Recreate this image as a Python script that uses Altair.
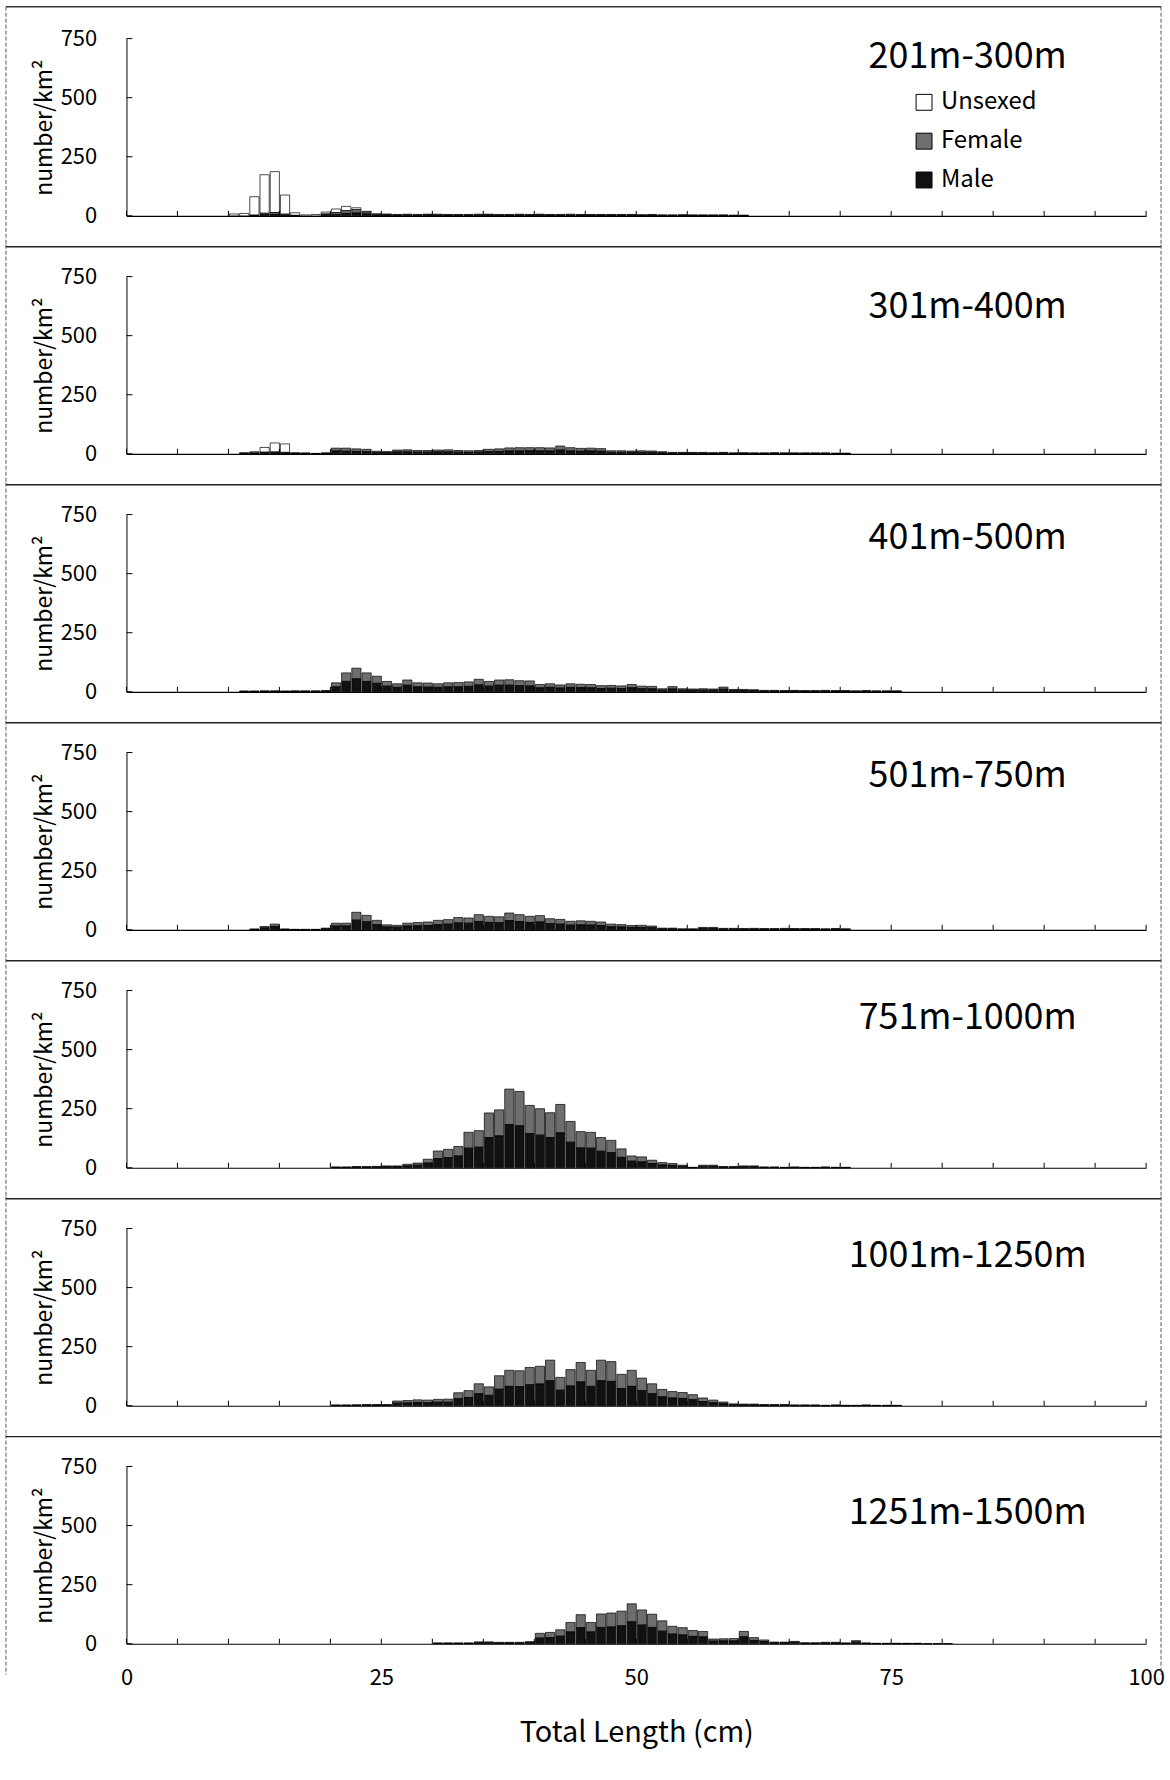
import altair as alt
import pandas as pd

FONT = "Noto Sans CJK JP"

PANEL_LABELS = ["201m-300m", "301m-400m", "401m-500m", "501m-750m",
                "751m-1000m", "1001m-1250m", "1251m-1500m"]
PANEL_LABEL_Y = [670, 619, 649, 649, 632, 632, 552]
PANEL_LABEL_X = 82.5

SERIES = ["Unsexed", "Female", "Male"]
SERIES_COLORS = ["#ffffff", "#6e6e6e", "#111111"]
STACK_ORDER = {"Male": 0, "Female": 1, "Unsexed": 2}

X_TICKS = [0, 5, 10, 15, 20, 25, 30, 35, 40, 45, 50, 55, 60, 65, 70, 75, 80, 85, 90, 95, 100]
X_LABELS = [0, 25, 50, 75, 100]
Y_TICKS = [0, 250, 500, 750]

# first length class (cm) of each panel's lists; bar i covers [start+i, start+i+1)
PANEL_START = [10, 11, 11, 12, 20, 20, 30]

# 201m-300m
P1_UNSEXED = [8, 10, 78, 163, 173, 81, 11, 4, 6, 8, 15, 18, 8, 3]
P1_FEMALE = [0, 0, 2, 6, 8, 4, 1, 0, 0, 4, 8, 12, 14, 8, 5, 4, 3, 4, 3, 3,
             4, 3, 3, 3, 4, 3, 3, 3, 4, 3, 3, 3, 3, 4, 3, 3, 3, 3, 3, 3,
             3, 3, 2, 2, 3, 2, 2, 2, 2, 2, 2]
P1_MALE = [0, 0, 1, 5, 6, 3, 1, 0, 0, 4, 6, 10, 12, 8, 4, 4, 3, 3, 3, 4,
           3, 3, 3, 3, 3, 4, 3, 3, 3, 3, 4, 3, 3, 3, 3, 3, 3, 3, 3, 3,
           2, 3, 2, 2, 2, 2, 2, 2, 2, 1, 1]

# 301m-400m
P2_UNSEXED = [3, 5, 20, 38, 36, 3, 2]
P2_FEMALE = [0, 2, 3, 4, 3, 1, 1, 1, 2, 12, 13, 11, 10, 6, 5, 8, 9, 7, 7, 8,
             9, 7, 7, 7, 10, 11, 13, 14, 13, 14, 13, 17, 14, 12, 12, 11, 7, 7, 6, 7,
             6, 5, 3, 3, 3, 3, 3, 3, 2, 3, 2, 2, 3, 2, 2, 2, 2, 2, 2, 2]
P2_MALE = [2, 2, 4, 4, 3, 1, 1, 1, 2, 12, 11, 10, 9, 5, 5, 8, 8, 7, 7, 8,
           8, 7, 6, 7, 9, 10, 12, 12, 13, 12, 12, 16, 12, 11, 12, 11, 6, 6, 6, 6,
           6, 4, 3, 3, 3, 3, 2, 3, 2, 2, 2, 2, 2, 2, 2, 2, 2, 2, 1, 1]

# 401m-500m
P3_UNSEXED = []
P3_FEMALE = [1, 1, 2, 2, 1, 2, 2, 2, 2, 17, 36, 45, 36, 30, 20, 15, 22, 17, 17, 15,
             17, 18, 19, 24, 20, 22, 23, 21, 21, 14, 15, 13, 15, 14, 14, 12, 12, 11, 14, 11,
             10, 6, 10, 6, 5, 6, 5, 9, 4, 4, 4, 3, 3, 2, 3, 2, 2, 3, 2, 2,
             2, 2, 2, 2, 2]
P3_MALE = [2, 2, 2, 2, 2, 2, 2, 2, 3, 21, 44, 55, 44, 36, 24, 19, 28, 21, 20, 19,
           21, 21, 23, 29, 24, 28, 28, 26, 25, 17, 19, 16, 19, 18, 17, 14, 15, 14, 17, 13,
           13, 7, 12, 7, 7, 7, 7, 11, 6, 6, 5, 3, 3, 3, 3, 3, 3, 3, 3, 3,
           2, 3, 2, 2, 2]

# 501m-750m
P4_UNSEXED = []
P4_FEMALE = [1, 6, 10, 1, 1, 1, 1, 3, 12, 12, 33, 27, 18, 9, 8, 12, 14, 15, 18, 19,
             23, 22, 29, 26, 25, 32, 29, 26, 27, 21, 20, 16, 17, 16, 15, 11, 10, 8, 9, 7,
             3, 3, 2, 2, 4, 4, 3, 3, 2, 3, 2, 2, 3, 2, 2, 2, 2, 2, 2]
P4_MALE = [2, 8, 14, 2, 1, 1, 1, 4, 16, 16, 41, 34, 22, 12, 11, 16, 17, 18, 22, 24,
           29, 28, 35, 31, 30, 39, 35, 31, 33, 26, 24, 20, 21, 20, 18, 13, 12, 10, 10, 9,
           4, 4, 2, 2, 6, 6, 3, 3, 3, 3, 3, 3, 3, 3, 3, 3, 2, 3, 2]

# 751m-1000m
P5_UNSEXED = []
P5_FEMALE = [1, 1, 2, 2, 3, 4, 4, 7, 9, 16, 32, 35, 40, 67, 70, 104, 110, 150, 145, 119,
             112, 105, 120, 88, 69, 67, 58, 52, 36, 22, 21, 14, 10, 8, 5, 1, 5, 5, 2, 2,
             4, 4, 1, 1, 1, 1, 1, 1, 1, 1, 1]
P5_MALE = [2, 2, 3, 3, 3, 4, 4, 8, 11, 20, 39, 43, 50, 83, 87, 128, 135, 183, 178, 145,
           138, 128, 148, 108, 84, 83, 70, 64, 44, 28, 25, 18, 12, 10, 6, 1, 6, 6, 3, 3,
           4, 4, 2, 2, 1, 2, 1, 1, 2, 1, 1]

# 1001m-1250m
P6_UNSEXED = []
P6_FEMALE = [1, 1, 2, 2, 2, 2, 9, 10, 11, 11, 12, 13, 25, 29, 42, 36, 57, 68, 67, 73,
             75, 87, 54, 69, 82, 68, 87, 84, 60, 68, 53, 42, 31, 27, 25, 21, 15, 11, 7, 4,
             3, 3, 2, 2, 2, 1, 1, 1, 1, 1, 1, 1, 1, 1, 1, 1]
P6_MALE = [2, 2, 2, 3, 3, 3, 11, 12, 14, 13, 15, 15, 30, 35, 51, 44, 70, 82, 81, 89,
           92, 106, 66, 84, 101, 82, 106, 103, 73, 82, 64, 51, 38, 33, 31, 26, 18, 13, 9, 4,
           4, 4, 3, 3, 3, 2, 2, 2, 1, 2, 1, 1, 2, 1, 1, 1]

# 1251m-1500m
P7_UNSEXED = []
P7_FEMALE = [1, 1, 1, 1, 4, 4, 3, 3, 3, 4, 20, 22, 27, 40, 55, 40, 57, 59, 62, 76,
             64, 56, 44, 33, 31, 25, 23, 9, 9, 10, 23, 12, 7, 3, 3, 4, 2, 2, 3, 3,
             1, 6, 1, 1, 1, 1, 1, 1, 0, 0, 0]
P7_MALE = [2, 2, 2, 2, 4, 4, 3, 3, 3, 5, 24, 26, 32, 50, 68, 50, 69, 71, 76, 93,
           79, 69, 53, 41, 37, 31, 29, 11, 12, 12, 29, 14, 9, 4, 4, 6, 2, 2, 3, 3,
           2, 7, 2, 1, 1, 1, 1, 1, 1, 1, 1]

PANEL_SERIES = [
    (P1_UNSEXED, P1_FEMALE, P1_MALE),
    (P2_UNSEXED, P2_FEMALE, P2_MALE),
    (P3_UNSEXED, P3_FEMALE, P3_MALE),
    (P4_UNSEXED, P4_FEMALE, P4_MALE),
    (P5_UNSEXED, P5_FEMALE, P5_MALE),
    (P6_UNSEXED, P6_FEMALE, P6_MALE),
    (P7_UNSEXED, P7_FEMALE, P7_MALE),
]

W = 1024
H = 178

rows = []
for p, (start, lists) in enumerate(zip(PANEL_START, PANEL_SERIES)):
    for name, vals in zip(SERIES, lists):
        for i, v in enumerate(vals):
            if v > 0:
                rows.append({"panel": p, "series": name, "lo": start + i,
                             "hi": start + i + 1, "value": v,
                             "ord": STACK_ORDER[name]})
df = pd.DataFrame(rows)

xscale = alt.Scale(domain=[0, 100], nice=False, zero=False)
yscale = alt.Scale(domain=[0, 750], nice=False)


def make_panel(k):
    last = k == len(PANEL_LABELS) - 1
    if last:
        xaxis = alt.Axis(values=X_LABELS, ticks=False, tickSize=0, labelPadding=24,
                         labelFontSize=22, labelFont=FONT, labelColor="black",
                         title="Total Length (cm)", titleFontSize=29, titleFont=FONT,
                         titleFontWeight="normal", titlePadding=30, titleColor="black",
                         domainColor="black", domainWidth=1.2, grid=False,
                         labelFlush=False)
    else:
        xaxis = alt.Axis(values=X_LABELS, ticks=False, tickSize=0, labels=False,
                         title=None, domainColor="black", domainWidth=1.2, grid=False)
    yaxis = alt.Axis(values=Y_TICKS, ticks=False, tickSize=0, labelPadding=30,
                     labelFontSize=22, labelFont=FONT, labelColor="black",
                     title="number/km²", titleFontSize=23, titleFont=FONT,
                     titleFontWeight="normal", titlePadding=4, titleColor="black",
                     domainColor="black", domainWidth=1, grid=False)

    if k == 0:
        legend = alt.Legend(orient="none", legendX=789, legendY=52, title=None,
                            symbolType="square", symbolSize=256,
                            symbolStrokeColor="black", symbolStrokeWidth=1,
                            labelFontSize=24, labelFont=FONT, labelColor="black",
                            labelOffset=5, rowPadding=15, padding=0)
    else:
        legend = None

    d = df[df["panel"] == k]
    bars = alt.Chart(d).mark_bar(stroke="black", strokeWidth=0.7).encode(
        x=alt.X("lo:Q", bin="binned", scale=xscale, axis=xaxis),
        x2="hi:Q",
        y=alt.Y("value:Q", stack="zero", scale=yscale, axis=yaxis),
        color=alt.Color("series:N",
                        scale=alt.Scale(domain=SERIES, range=SERIES_COLORS),
                        legend=legend),
        order=alt.Order("ord:Q", sort="ascending"),
    )

    lab = pd.DataFrame({"label": [PANEL_LABELS[k]], "x": [PANEL_LABEL_X],
                        "y": [PANEL_LABEL_Y[k]]})
    text = alt.Chart(lab).mark_text(font=FONT, fontSize=36, align="center",
                                    baseline="middle", color="black").encode(
        x=alt.X("x:Q", scale=xscale, axis=xaxis),
        y=alt.Y("y:Q", scale=yscale, axis=yaxis),
        text="label:N",
    )

    xt = alt.Chart(pd.DataFrame({"t": X_TICKS})).mark_rule(
        color="black", strokeWidth=1).encode(
        x=alt.X("t:Q", scale=xscale, axis=xaxis),
        y=alt.value(H), y2=alt.value(H - 5),
    )
    yt = alt.Chart(pd.DataFrame({"t": Y_TICKS})).mark_rule(
        color="black", strokeWidth=1).encode(
        y=alt.Y("t:Q", scale=yscale, axis=yaxis),
        x=alt.value(0), x2=alt.value(6),
    )

    one = pd.DataFrame({"a": [0]})
    layers = [bars, text, xt, yt]
    # frame of the original chart box
    layers.append(alt.Chart(one).mark_rule(color="#555", strokeWidth=1,
                                           strokeDash=[4, 2]).encode(
        x=alt.value(-121), y=alt.value(-32), y2=alt.value(H + 31)))
    layers.append(alt.Chart(one).mark_rule(color="#555", strokeWidth=1,
                                           strokeDash=[4, 2]).encode(
        x=alt.value(W + 15), y=alt.value(-32), y2=alt.value(H + 31)))
    if k == 0:
        layers.append(alt.Chart(one).mark_rule(color="#333", strokeWidth=1.5).encode(
            x=alt.value(-121), x2=alt.value(W + 15), y=alt.value(-32)))
    if not last:
        layers.append(alt.Chart(one).mark_rule(color="#222", strokeWidth=1.5).encode(
            x=alt.value(-121), x2=alt.value(W + 15), y=alt.value(H + 31)))

    return alt.layer(*layers).properties(width=W, height=H)


panels = [make_panel(k) for k in range(len(PANEL_LABELS))]

chart = alt.vconcat(*panels, spacing=61, bounds="flush").resolve_scale(
    color="independent"
).properties(
    padding={"left": 5, "top": 2, "right": 5, "bottom": 10},
    background="white",
).configure_view(strokeWidth=0)

chart.save("out.html", embed_options={"renderer": "svg", "actions": False})
